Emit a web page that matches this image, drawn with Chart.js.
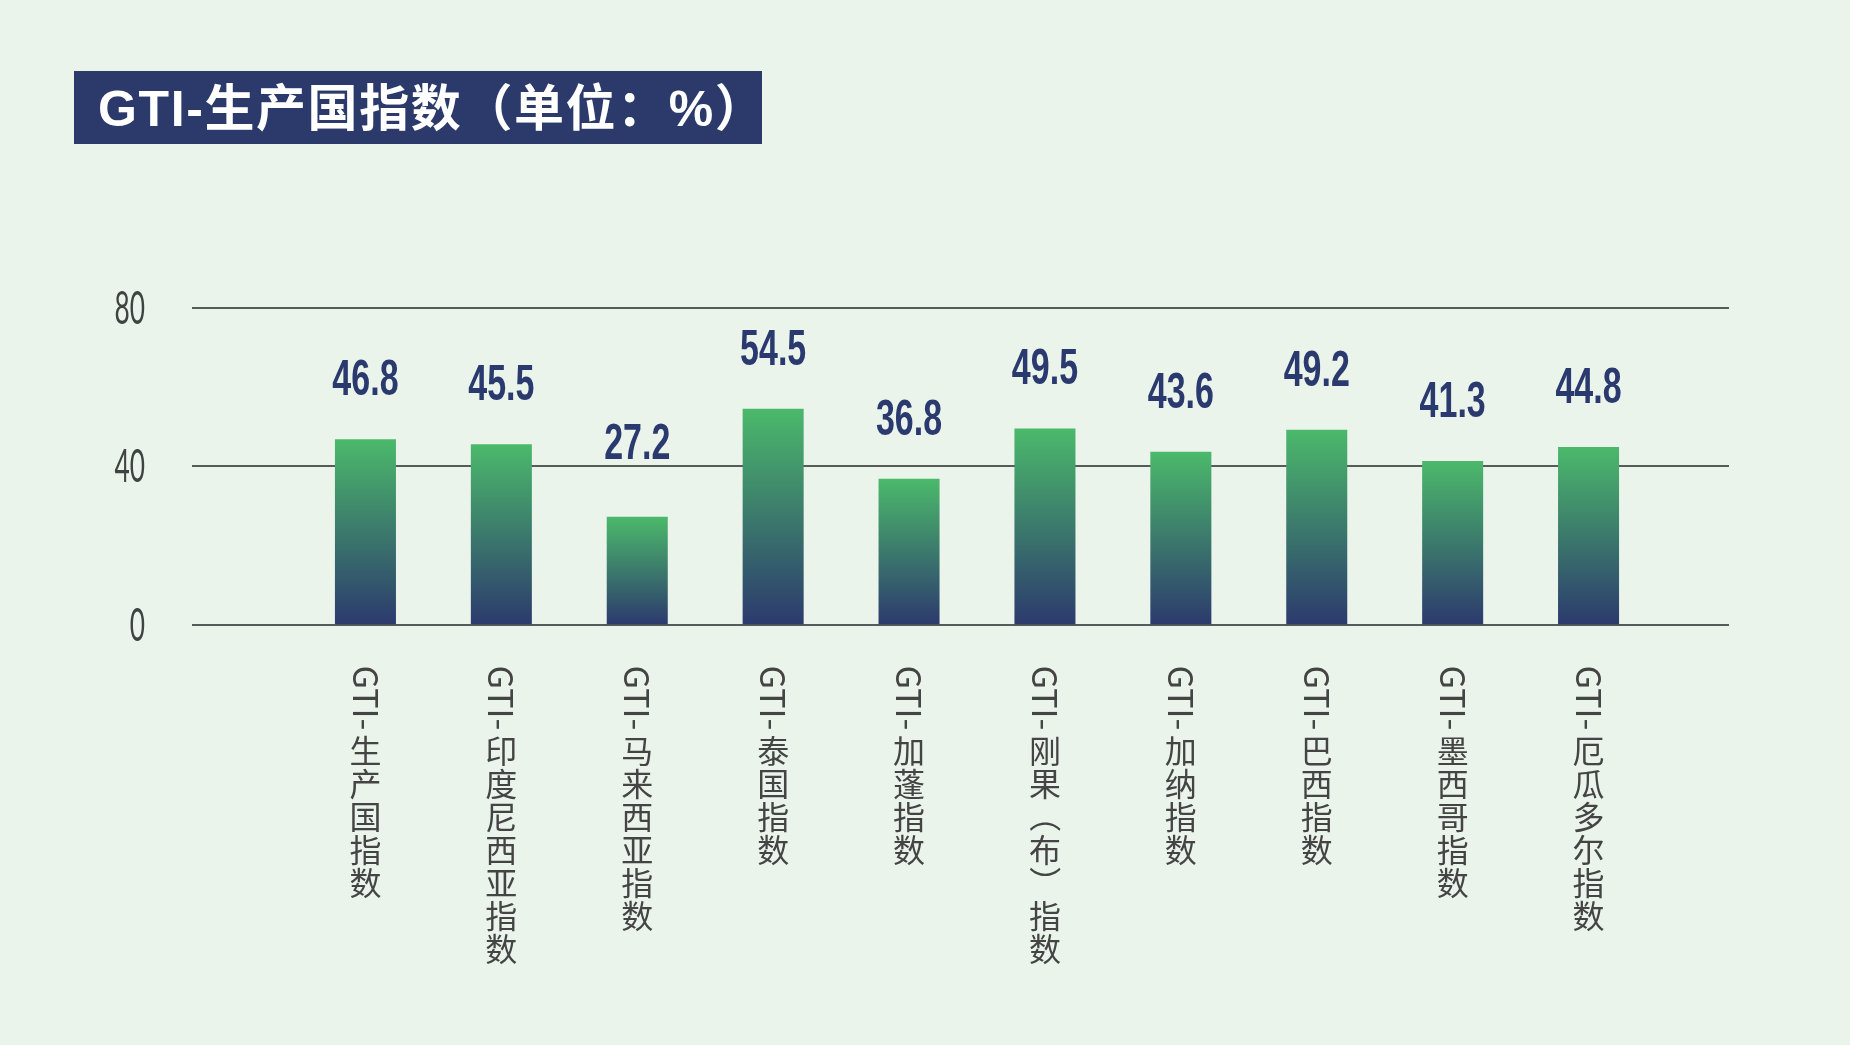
<!DOCTYPE html>
<html>
<head>
<meta charset="utf-8">
<script src="https://cdn.jsdelivr.net/npm/chart.js@4.4.1/dist/chart.umd.min.js"></script>
<style>
  html, body { margin: 0; padding: 0; background: #eaf4eb; }
  #wrap { position: relative; width: 1850px; height: 1045px; overflow: hidden; }
  #title {
    position: absolute; left: 74px; top: 71px; width: 688px; height: 73px; box-sizing: border-box;
    background: #2c3a6b; color: #ffffff; padding-left: 24px; padding-top: 3px;
    font: 700 50px "Liberation Sans", "Noto Sans CJK SC", sans-serif; line-height: 70px;
    letter-spacing: 1.6px; white-space: nowrap; overflow: hidden;
  }
  canvas { position: absolute; left: 0; top: 0; }
</style>
</head>
<body>
<div id="wrap">
  <canvas id="c" width="1850" height="1045"></canvas>
  <div id="title">GTI-生产国指数（单位：%）</div>
</div>
<script>
// ---- data ----
const categories = [
  'GTI-生产国指数', 'GTI-印度尼西亚指数', 'GTI-马来西亚指数', 'GTI-泰国指数', 'GTI-加蓬指数',
  'GTI-刚果（布）指数', 'GTI-加纳指数', 'GTI-巴西指数', 'GTI-墨西哥指数', 'GTI-厄瓜多尔指数'
];
const values = [46.8, 45.5, 27.2, 54.5, 36.8, 49.5, 43.6, 49.2, 41.3, 44.8];
const yTicks = [0, 40, 80];

// ---- styles ----
const GREEN = '#4bb96b';
const NAVY = '#2c3a6d';
const GRID = '#565b59';
const LABEL = '#444444';

const barGradient = (ctx) => {
  const chart = ctx.chart;
  const y = chart.scales && chart.scales.y;
  if (!y || ctx.type !== 'data') return GREEN;
  const top = y.getPixelForValue(ctx.raw);
  const bot = y.getPixelForValue(0);
  if (!isFinite(top) || !isFinite(bot) || top === bot) return GREEN;
  const g = chart.ctx.createLinearGradient(0, top, 0, bot);
  g.addColorStop(0, GREEN);
  g.addColorStop(1, NAVY);
  return g;
};

// horizontal grid lines (extended beyond the plot area) + condensed y tick labels
const gridPlugin = {
  id: 'extGrid',
  beforeDatasetsDraw(chart) {
    const { ctx, chartArea, scales: { y } } = chart;
    ctx.save();
    ctx.strokeStyle = GRID;
    ctx.lineWidth = 2;
    y.ticks.forEach(t => {
      const py = Math.round(y.getPixelForValue(t.value));
      ctx.beginPath();
      ctx.moveTo(chartArea.left - 105.5, py);
      ctx.lineTo(chartArea.right + 72.5, py);
      ctx.stroke();
    });
    // tick labels
    ctx.fillStyle = '#3f4341';
    ctx.font = '400 47px Lato, "Liberation Sans", sans-serif';
    ctx.textAlign = 'right';
    ctx.textBaseline = 'middle';
    y.ticks.forEach(t => {
      const py = y.getPixelForValue(t.value);
      ctx.save();
      ctx.translate(chartArea.left - 152.5, py + 1);
      ctx.scale(0.56, 1);
      ctx.fillText(String(t.value), 0, 0);
      ctx.restore();
    });
    ctx.restore();
  }
};

// value labels above bars (condensed bold); nudged up if they would sit on a grid line
const valuePlugin = {
  id: 'valueLabels',
  afterDatasetsDraw(chart) {
    const { ctx, scales: { y } } = chart;
    const meta = chart.getDatasetMeta(0);
    const gridYs = y.ticks.map(t => y.getPixelForValue(t.value));
    ctx.save();
    ctx.fillStyle = '#2b3a6e';
    ctx.font = 'bold 50px "Liberation Sans", Arial, sans-serif';
    ctx.textAlign = 'center';
    ctx.textBaseline = 'alphabetic';
    meta.data.forEach((el, i) => {
      let base = el.y - 44;
      gridYs.forEach(gy => {
        if (gy >= base - 39 && gy <= base + 7) base = gy - 7;
      });
      ctx.save();
      ctx.translate(el.x, base);
      ctx.scale(0.68, 1);
      ctx.fillText(values[i].toFixed(1), 0, 0);
      ctx.restore();
    });
    ctx.restore();
  }
};

// vertical category labels (CJK upright, Latin/punctuation rotated)
const isCJK = ch => /[\u3400-\u9fff]/.test(ch);
const xLabelPlugin = {
  id: 'verticalLabels',
  afterDraw(chart) {
    const { ctx, scales: { x }, chartArea } = chart;
    ctx.save();
    ctx.fillStyle = LABEL;
    const cjkFont = '32px "Noto Sans CJK SC", "Noto Sans", sans-serif';
    const latFont = '34px "Noto Sans CJK SC", "Noto Sans", sans-serif';
    categories.forEach((label, i) => {
      const cx = x.getPixelForTick(i);
      let yPos = chartArea.bottom + 41;
      const chars = Array.from(label);
      let k = 0;
      while (k < chars.length) {
        if (isCJK(chars[k])) {
          ctx.save();
          ctx.font = cjkFont;
          ctx.textAlign = 'center';
          ctx.textBaseline = 'middle';
          ctx.fillText(chars[k], cx, yPos + 17);
          ctx.restore();
          yPos += 33;
          k++;
        } else {
          let run = '';
          while (k < chars.length && !isCJK(chars[k])) { run += chars[k]; k++; }
          const full = /[\uff00-\uffef]/.test(run);
          ctx.save();
          ctx.font = full ? cjkFont : latFont;
          const w = ctx.measureText(run).width;
          ctx.translate(cx, yPos);
          ctx.rotate(Math.PI / 2);
          ctx.textAlign = 'left';
          ctx.textBaseline = 'middle';
          ctx.fillText(run, 0, 0);
          ctx.restore();
          yPos += full ? w + 1 : w + 4;
        }
      }
    });
    ctx.restore();
  }
};

new Chart(document.getElementById('c'), {
  type: 'bar',
  data: {
    labels: categories,
    datasets: [{
      data: values,
      backgroundColor: barGradient,
      borderWidth: 0,
      barPercentage: 0.449,
      categoryPercentage: 1.0
    }]
  },
  options: {
    responsive: false,
    devicePixelRatio: 1,
    animation: false,
    layout: { padding: { left: 0, right: 193.5, top: 307.7, bottom: 420.5 } },
    plugins: { legend: { display: false }, tooltip: { enabled: false }, title: { display: false } },
    scales: {
      x: {
        grid: { display: false },
        border: { display: false },
        ticks: { display: false },
        afterFit(scale) { scale.height = 0; }
      },
      y: {
        min: 0, max: 80,
        afterBuildTicks(scale) { scale.ticks = yTicks.map(v => ({ value: v })); },
        grid: { display: false },
        border: { display: false },
        ticks: { display: false },
        afterFit(scale) { scale.width = 297.5; }
      }
    }
  },
  plugins: [gridPlugin, valuePlugin, xLabelPlugin]
});
</script>
</body>
</html>
